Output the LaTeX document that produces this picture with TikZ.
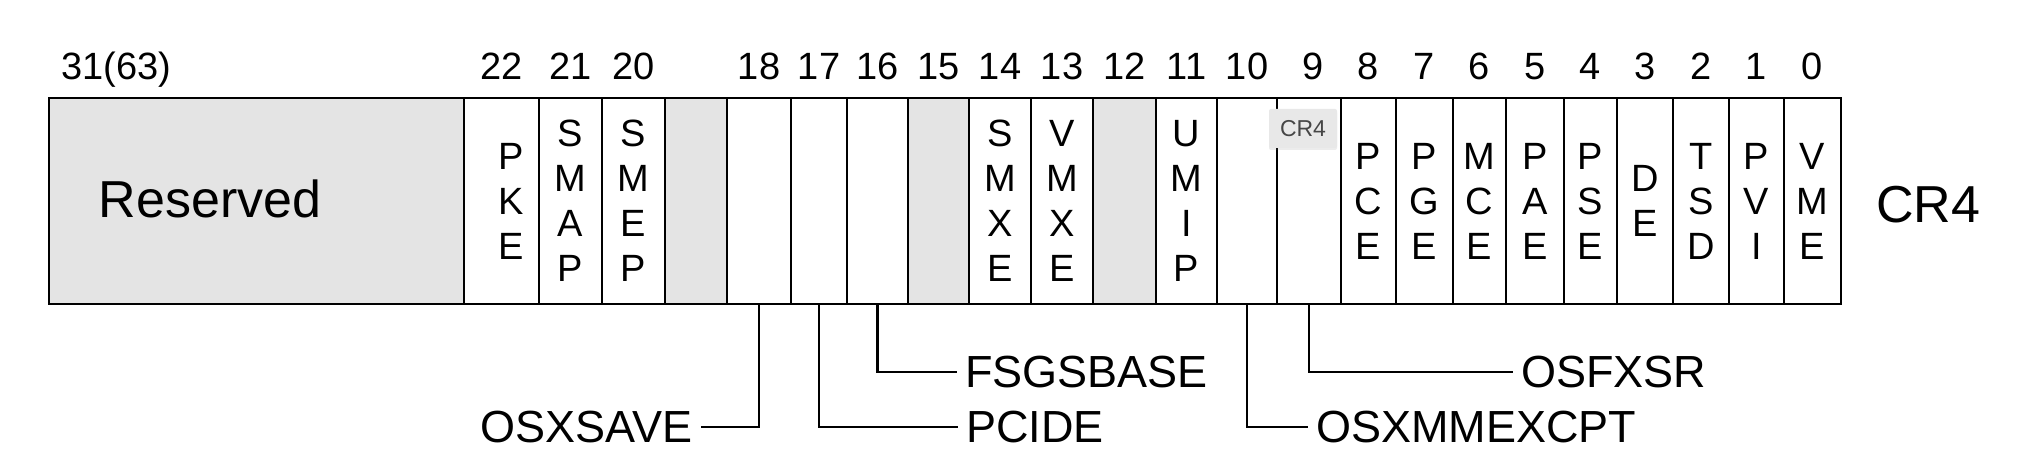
\documentclass[tikz,border=0pt]{standalone}
\usepackage{fontspec}
\setmainfont{Liberation Sans}
\usetikzlibrary{shadows}
\definecolor{rsvdgray}{RGB}{228,228,228}
\definecolor{tipgray}{RGB}{232,232,232}
\definecolor{tiptext}{RGB}{70,70,70}

\begin{document}
\begin{tikzpicture}[x=0.5pt,y=-0.5pt,
	bitcell/.style={draw,line width=1.3pt,fill=white,minimum height=103pt,inner sep=0pt,align=center,font=\fontsize{19}{22.5}\selectfont},
	rsvd/.style={bitcell,fill=rsvdgray},
	bitno/.style={anchor=base,inner sep=0pt,font=\fontsize{19}{22}\selectfont},
	flag/.style={inner sep=4pt,font=\fontsize{22.5}{27}\selectfont},
	wire/.style={line width=1.2pt}]
	\useasboundingbox (0,0) rectangle (2034,474);
	% register cells, bit 31 down to bit 0
	\draw (256.5,201) node(res) [rsvd,minimum width=207.5pt] {};
	\draw (210,199) node(rsvdtext) [font=\fontsize{26}{30}\selectfont] {Reserved};
	\draw (501.5,201) node(b22) [bitcell,minimum width=37.5pt] {\hspace*{10pt}P\\\hspace*{10pt}K\\\hspace*{10pt}E};
	\draw (570.5,201) node(b21) [bitcell,minimum width=31.5pt] {S\\M\\A\\P};
	\draw (633.5,201) node(b20) [bitcell,minimum width=31.5pt] {S\\M\\E\\P};
	\draw (696,201) node(b19) [rsvd,minimum width=31pt] {};
	\draw (759,201) node(b18) [bitcell,minimum width=32pt] {};
	\draw (819,201) node(b17) [bitcell,minimum width=28pt] {};
	\draw (877.5,201) node(b16) [bitcell,minimum width=30.5pt] {};
	\draw (938.5,201) node(b15) [rsvd,minimum width=30.5pt] {};
	\draw (1000,201) node(b14) [bitcell,minimum width=31pt] {S\\M\\X\\E};
	\draw (1062,201) node(b13) [bitcell,minimum width=31pt] {V\\M\\X\\E};
	\draw (1124.5,201) node(b12) [rsvd,minimum width=31.5pt] {};
	\draw (1186.5,201) node(b11) [bitcell,minimum width=30.5pt] {U\\M\\I\\P};
	\draw (1247,201) node(b10) [bitcell,minimum width=30pt] {};
	\draw (1309,201) node(b9) [bitcell,minimum width=32pt] {};
	\draw (1368.5,201) node(b8) [bitcell,minimum width=27.5pt] {P\\C\\E};
	\draw (1424.5,201) node(b7) [bitcell,minimum width=28.5pt] {P\\G\\E};
	\draw (1479.5,201) node(b6) [bitcell,minimum width=26.5pt] {M\\C\\E};
	\draw (1535,201) node(b5) [bitcell,minimum width=29pt] {P\\A\\E};
	\draw (1590.5,201) node(b4) [bitcell,minimum width=26.5pt] {P\\S\\E};
	\draw (1645,201) node(b3) [bitcell,minimum width=28pt] {D\\E};
	\draw (1701,201) node(b2) [bitcell,minimum width=28pt] {T\\S\\D};
	\draw (1756.5,201) node(b1) [bitcell,minimum width=27.5pt] {P\\V\\I};
	\draw (1812.5,201) node(b0) [bitcell,minimum width=28.5pt] {V\\M\\E};
	\draw (1876,205) node(regname) [anchor=west,inner sep=0pt,font=\fontsize{26}{30}\selectfont] {CR4};
	% bit numbers
	\draw (61,80) node(n31) [bitno,anchor=base west] {31(63)};
	\draw (501.5,80) node(n22) [bitno] {22};
	\draw (570.5,80) node(n21) [bitno] {21};
	\draw (633.5,80) node(n20) [bitno] {20};
	\draw (759,80) node(n18) [bitno] {18};
	\draw (819,80) node(n17) [bitno] {17};
	\draw (877.5,80) node(n16) [bitno] {16};
	\draw (938.5,80) node(n15) [bitno] {15};
	\draw (1000,80) node(n14) [bitno] {14};
	\draw (1062,80) node(n13) [bitno] {13};
	\draw (1124.5,80) node(n12) [bitno] {12};
	\draw (1186.5,80) node(n11) [bitno] {11};
	\draw (1247,80) node(n10) [bitno] {10};
	\draw (1313,80) node(n9) [bitno] {9};
	\draw (1368.5,80) node(n8) [bitno] {8};
	\draw (1424.5,80) node(n7) [bitno] {7};
	\draw (1479.5,80) node(n6) [bitno] {6};
	\draw (1535,80) node(n5) [bitno] {5};
	\draw (1590.5,80) node(n4) [bitno] {4};
	\draw (1645,80) node(n3) [bitno] {3};
	\draw (1701,80) node(n2) [bitno] {2};
	\draw (1756.5,80) node(n1) [bitno] {1};
	\draw (1812.5,80) node(n0) [bitno] {0};
	% flag names below
	\draw (701,427) node(osxsave) [flag,anchor=east] {OSXSAVE};
	\draw (958,427) node(pcide) [flag,anchor=west] {PCIDE};
	\draw (957,372) node(fsgsbase) [flag,anchor=west] {FSGSBASE};
	\draw (1308,427) node(osxmmexcpt) [flag,anchor=west] {OSXMMEXCPT};
	\draw (1513,372) node(osfxsr) [flag,anchor=west] {OSFXSR};
	\draw[wire] (b18.south) |- (osxsave.east);
	\draw[wire] (b17.south) |- (pcide.west);
	\draw[wire] (b16.south) |- (fsgsbase.west);
	\draw[wire] (b10.south) |- (osxmmexcpt.west);
	\draw[wire] (b9.south) |- (osfxsr.west);
	% tooltip
	\draw (1303,128.5) node(tip) [fill=tipgray,rounded corners=1pt,minimum width=34pt,minimum height=19.5pt,inner sep=0pt,text=tiptext,font=\fontsize{11.5}{13}\selectfont,drop shadow={opacity=0.15,shadow xshift=0pt,shadow yshift=-1pt}] {CR4};
\end{tikzpicture}
\end{document}
